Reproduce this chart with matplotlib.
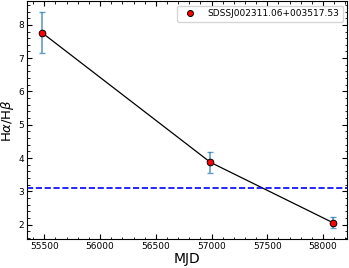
import numpy as np
import matplotlib.pyplot as plt

# --- Data ---
mjd = [55477, 56990, 58087]
ratio = [7.77, 3.87, 2.06]
ratio_err = [0.62, 0.31, 0.17]
case_b = 3.1
name = "SDSSJ002311.06+003517.53"

fig = plt.figure(figsize=(3.49, 2.68), dpi=100)
ax = fig.add_axes([0.078, 0.108, 0.917, 0.888])

ax.plot(mjd, ratio, color='black', lw=0.9, zorder=2)
ax.errorbar(mjd, ratio, yerr=ratio_err, fmt='none', ecolor='tab:blue',
            alpha=0.7, elinewidth=1.2, capsize=2.2, capthick=1.0, zorder=1)
ax.plot(mjd, ratio, 'o', color='red', mec='black', mew=0.7, ms=4.8,
        ls='none', label=name, zorder=3)
ax.axhline(case_b, color='blue', ls='--', lw=1.2)

ax.set_xlabel("MJD", fontsize=10, labelpad=1)
ax.set_ylabel(r"H$\alpha$/H$\beta$", fontsize=9.5, labelpad=2)
ax.set_xticks([55500, 56000, 56500, 57000, 57500, 58000])
ax.minorticks_on()
ax.tick_params(which='both', direction='in', top=True, right=True, labelsize=6.5, pad=2)
ax.tick_params(which='major', length=3.5)
ax.tick_params(which='minor', length=1.8)

ax.legend(loc='upper right', fontsize=6.5, handletextpad=0.9, borderpad=0.4,
          markerscale=0.9)

fig.savefig("out.png", dpi=100)
